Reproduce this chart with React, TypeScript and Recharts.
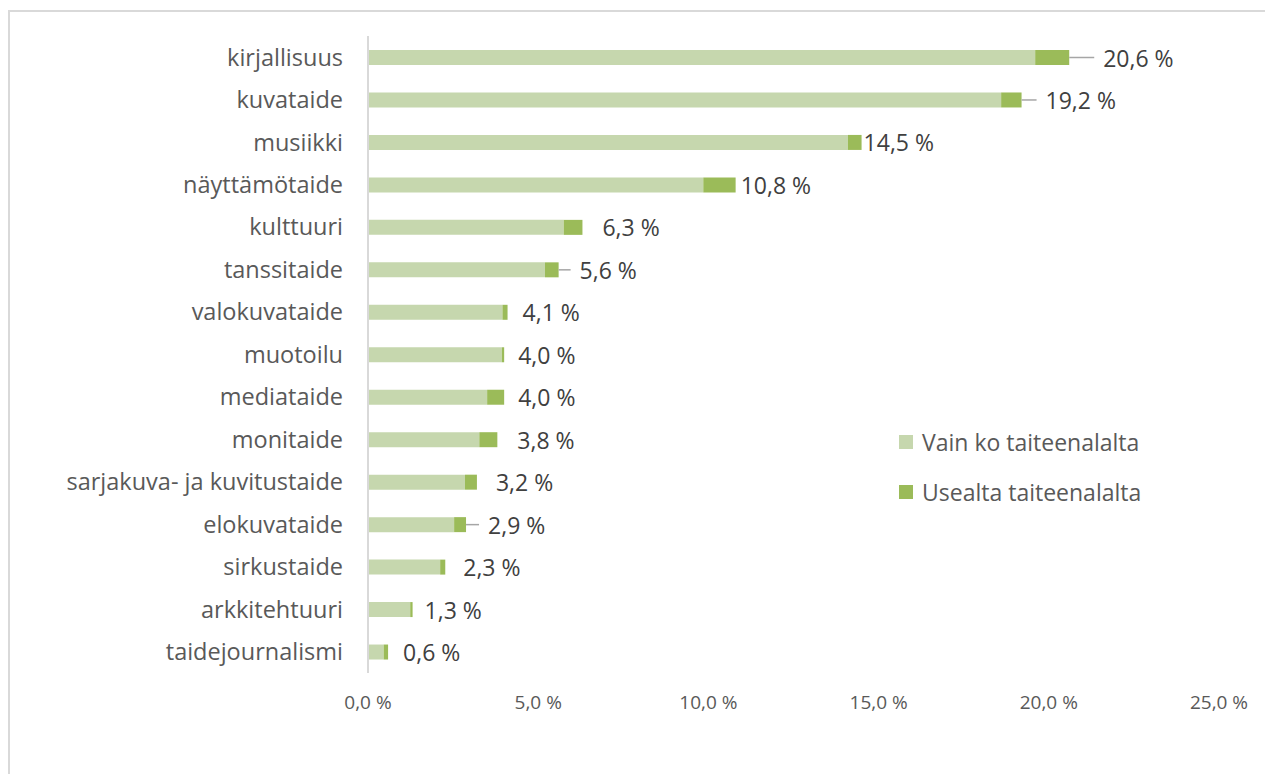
import { BarChart, Bar, XAxis, YAxis, LabelList, Legend } from "recharts";

const categories = [
  "kirjallisuus",
  "kuvataide",
  "musiikki",
  "näyttämötaide",
  "kulttuuri",
  "tanssitaide",
  "valokuvataide",
  "muotoilu",
  "mediataide",
  "monitaide",
  "sarjakuva- ja kuvitustaide",
  "elokuvataide",
  "sirkustaide",
  "arkkitehtuuri",
  "taidejournalismi",
];

// osuus, joka mainitsi vain yhden taiteenalan
const vainYksi = [19.6, 18.6, 14.1, 9.85, 5.75, 5.2, 3.95, 3.93, 3.5, 3.27, 2.85, 2.53, 2.12, 1.24, 0.46];
// osuus, joka mainitsi useita taiteenaloja
const useita = [1.0, 0.6, 0.4, 0.95, 0.55, 0.4, 0.15, 0.07, 0.5, 0.53, 0.35, 0.35, 0.15, 0.07, 0.13];
// yhteensä (datalabelit)
const yhteensa = [20.6, 19.2, 14.5, 10.8, 6.3, 5.6, 4.1, 4.0, 4.0, 3.8, 3.2, 2.9, 2.3, 1.3, 0.6];

const xTicks = [0, 5, 10, 15, 20, 25];
const seriesNames = ["Vain ko taiteenalalta", "Usealta taiteenalalta"];

const data = categories.map((name, i) => ({
  name,
  vain: vainYksi[i],
  useat: useita[i],
  total: yhteensa[i],
}));

// label placement tweaks (px from bar end), like the manually moved Excel labels
const labelGap: Record<string, number> = {
  kirjallisuus: 34,
  kuvataide: 24,
  musiikki: 2,
  näyttämötaide: 5,
  kulttuuri: 20,
  tanssitaide: 21,
  valokuvataide: 15,
  muotoilu: 14,
  mediataide: 14,
  monitaide: 20,
  "sarjakuva- ja kuvitustaide": 19,
  elokuvataide: 22,
  sirkustaide: 18,
  arkkitehtuuri: 12,
  taidejournalismi: 15,
};
const withLeader = ["kirjallisuus", "kuvataide", "tanssitaide", "elokuvataide"];

const fmt = (v: number) => v.toFixed(1).replace(".", ",") + " %";

const font = "'Open Sans', sans-serif";

function TotalLabel(props: any) {
  const { x, y, width, height, index } = props;
  const row = data[index];
  const end = Number(x) + Number(width);
  const cy = Number(y) + Number(height) / 2;
  const gap = labelGap[row.name] ?? 14;
  return (
    <g>
      {withLeader.includes(row.name) && (
        <line x1={end} y1={cy} x2={end + gap - 9} y2={cy} stroke="#a6a6a6" strokeWidth={1.5} />
      )}
      <text
        x={end + gap}
        y={cy}
        dominantBaseline="central"
        fontSize={23}
        fontFamily={font}
        fill="#404040"
      >
        {fmt(row.total)}
      </text>
    </g>
  );
}

function LegendContent(props: any) {
  const items = [...(props.payload || [])].sort(
    (a: any, b: any) => seriesNames.indexOf(a.value) - seriesNames.indexOf(b.value)
  );
  return (
    <div style={{ fontFamily: font }}>
      {items.map((p: any) => (
        <div key={p.value} style={{ display: "flex", alignItems: "center", height: 50 }}>
          <span style={{ width: 14, height: 14, background: p.color, marginRight: 9 }} />
          <span style={{ fontSize: 23, color: "#595959" }}>{p.value}</span>
        </div>
      ))}
    </div>
  );
}

export default function App() {
  return (
    <div style={{ position: "absolute", left: 0, top: 0, width: 1265, height: 774, background: "#fff" }}>
      <div
        style={{
          position: "absolute",
          left: 8,
          top: 10,
          width: 1300,
          height: 800,
          borderTop: "2px solid #d9d9d9",
          borderLeft: "2px solid #d9d9d9",
        }}
      />
      <div style={{ position: "absolute", left: 0, top: 0 }}>
        <BarChart
          width={1265}
          height={774}
          data={data}
          layout="vertical"
          margin={{ top: 36, right: 46, bottom: 61, left: 0 }}
        >
          <XAxis
            type="number"
            domain={[0, 25]}
            ticks={xTicks}
            tickFormatter={fmt}
            axisLine={false}
            tickLine={false}
            tickSize={0}
            tickMargin={23}
            height={40}
            tick={{ fontSize: 19, fill: "#595959", fontFamily: font }}
          />
          <YAxis
            type="category"
            dataKey="name"
            width={368}
            axisLine={{ stroke: "#d9d9d9", strokeWidth: 2 }}
            tickLine={false}
            tickSize={0}
            tickMargin={25}
            interval={0}
            tick={{ fontSize: 23.5, fill: "#595959", fontFamily: font }}
          />
          <Legend
            layout="vertical"
            align="center"
            verticalAlign="middle"
            wrapperStyle={{ left: 899, top: 417, width: 330 }}
            content={<LegendContent />}
          />
          <Bar dataKey="vain" name={seriesNames[0]} stackId="a" fill="#C6D7AE" barSize={15} isAnimationActive={false} />
          <Bar dataKey="useat" name={seriesNames[1]} stackId="a" fill="#9BBB59" barSize={15} isAnimationActive={false}>
            <LabelList dataKey="total" content={<TotalLabel />} />
          </Bar>
        </BarChart>
      </div>
    </div>
  );
}
